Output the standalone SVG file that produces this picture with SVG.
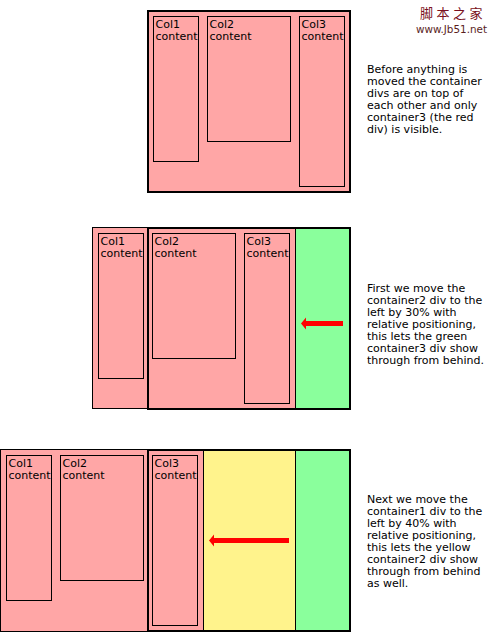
<svg xmlns="http://www.w3.org/2000/svg" width="497" height="632" viewBox="0 0 497 632">
<style>
text{font-family:"DejaVu Sans","Verdana",sans-serif;font-size:11px;fill:#000}
.pink{fill:#ffa6a6}
.green{fill:#8aff9c}
.yellow{fill:#fff38c}
.thin{stroke:#000;stroke-width:1}
.thick{fill:none;stroke:#000;stroke-width:2}
.col{fill:none;stroke:#000;stroke-width:1}
.arrow{fill:#ff0000}
.wm1{font-family:"Noto Sans CJK SC",sans-serif;font-size:13px;fill:#7a1020;letter-spacing:3.5px}
.wm2{font-size:10px;fill:#5a1e1e}
</style>
<rect width="497" height="632" fill="#fff"/>

<g id="watermark">
<text class="wm1" x="420" y="18">脚本之家</text>
<text class="wm2" x="416" y="33" textLength="71" lengthAdjust="spacingAndGlyphs">www.Jb51.net</text>
</g>

<!-- Diagram 1 -->
<g id="d1-container">
<rect class="pink" x="148" y="11" width="202" height="181"/>
<rect class="thick" x="148" y="11" width="202" height="181"/>
</g>
<g id="d1-col1"><rect class="col" x="153.5" y="16.5" width="45" height="145"/><text x="155.5" y="27.5">Col1</text><text x="155.5" y="39.5">content</text></g>
<g id="d1-col2"><rect class="col" x="207.5" y="16.5" width="83" height="125"/><text x="209.5" y="27.5">Col2</text><text x="209.5" y="39.5">content</text></g>
<g id="d1-col3"><rect class="col" x="299.5" y="16.5" width="45" height="170"/><text x="301.5" y="27.5">Col3</text><text x="301.5" y="39.5">content</text></g>
<g id="d1-note">
<text x="367" y="72.5">Before anything is</text>
<text x="367" y="84.5">moved the container</text>
<text x="367" y="96.5">divs are on top of</text>
<text x="367" y="108.5">each other and only</text>
<text x="367" y="120.5">container3 (the red</text>
<text x="367" y="132.5">div) is visible.</text>
</g>

<!-- Diagram 2 -->
<g id="d2-container3"><rect class="green" x="148" y="228" width="202" height="181"/></g>
<g id="d2-container1"><rect class="pink thin" x="92.5" y="227.5" width="100" height="181"/></g>
<g id="d2-container2"><rect class="pink thin" x="148" y="228" width="147.5" height="181"/></g>
<g id="d2-frame"><rect class="thick" x="148" y="228" width="202" height="181"/></g>
<g id="d2-col1"><rect class="col" x="98.5" y="233.5" width="45" height="145"/><text x="100.5" y="244.5">Col1</text><text x="100.5" y="256.5">content</text></g>
<g id="d2-col2"><rect class="col" x="152.5" y="233.5" width="83" height="125"/><text x="154.5" y="244.5">Col2</text><text x="154.5" y="256.5">content</text></g>
<g id="d2-col3"><rect class="col" x="244.5" y="233.5" width="45" height="170"/><text x="246.5" y="244.5">Col3</text><text x="246.5" y="256.5">content</text></g>
<g id="d2-note">
<text x="367" y="291.5">First we move the</text>
<text x="367" y="303.5">container2 div to the</text>
<text x="367" y="315.5">left by 30% with</text>
<text x="367" y="327.5">relative positioning,</text>
<text x="367" y="339.5">this lets the green</text>
<text x="367" y="351.5">container3 div show</text>
<text x="367" y="363.5">through from behind.</text>
</g>

<!-- Diagram 3 -->
<g id="d3-container3"><rect class="green" x="148" y="450" width="202" height="181"/></g>
<g id="d3-container2"><rect class="yellow thin" x="148" y="450" width="147.5" height="181"/></g>
<g id="d3-container1"><rect class="pink thin" x="0.5" y="449.5" width="203" height="182"/></g>
<g id="d3-frame"><rect class="thick" x="148" y="450" width="202" height="181"/></g>
<g id="d3-col1"><rect class="col" x="6.5" y="455.5" width="45" height="145"/><text x="8.5" y="466.5">Col1</text><text x="8.5" y="478.5">content</text></g>
<g id="d3-col2"><rect class="col" x="60.5" y="455.5" width="83" height="125"/><text x="62.5" y="466.5">Col2</text><text x="62.5" y="478.5">content</text></g>
<g id="d3-col3"><rect class="col" x="152.5" y="455.5" width="45" height="170"/><text x="154.5" y="466.5">Col3</text><text x="154.5" y="478.5">content</text></g>
<g id="d3-note">
<text x="367" y="502.5">Next we move the</text>
<text x="367" y="514.5">container1 div to the</text>
<text x="367" y="526.5">left by 40% with</text>
<text x="367" y="538.5">relative positioning,</text>
<text x="367" y="550.5">this lets the yellow</text>
<text x="367" y="562.5">container2 div show</text>
<text x="367" y="574.5">through from behind</text>
<text x="367" y="586.5">as well.</text>
</g>

<g id="connectors">
<polygon class="arrow" points="301,323.5 306,317.5 306,321 343,321 343,326 306,326 306,329.5"/>
<polygon class="arrow" points="209,540.5 214,534.5 214,538 289,538 289,543 214,543 214,546.5"/>
</g>
</svg>
